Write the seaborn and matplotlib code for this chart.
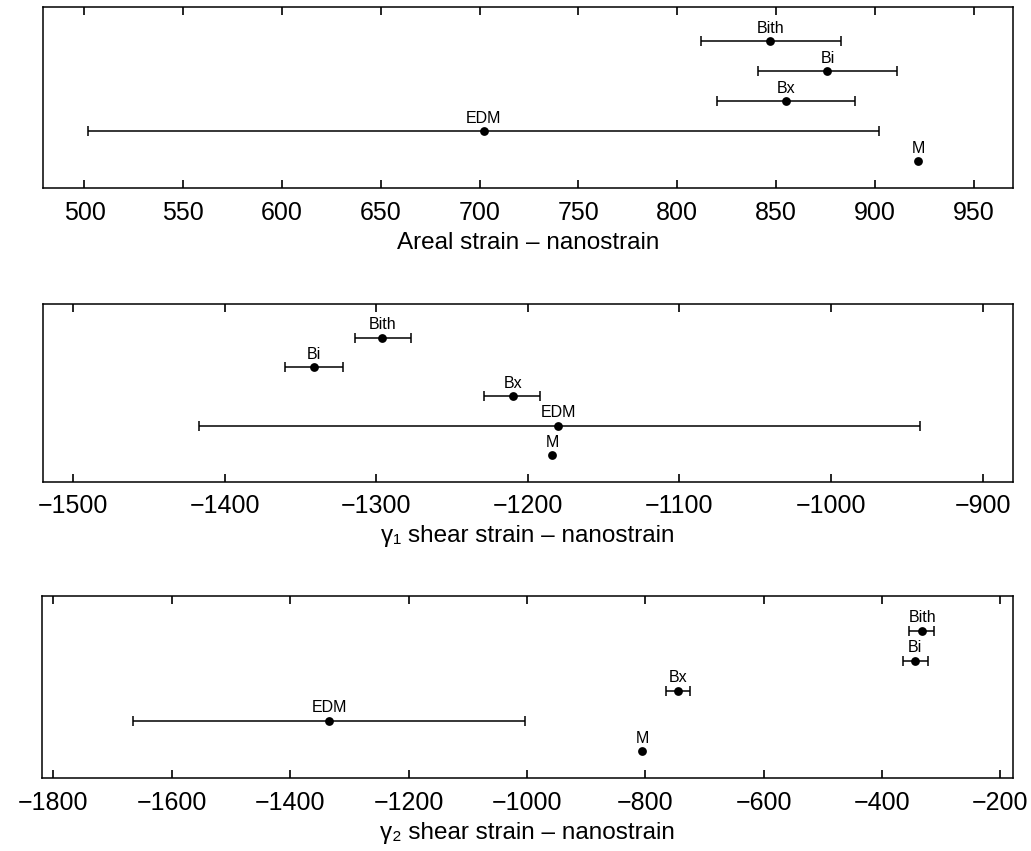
import matplotlib
matplotlib.use("Agg")
import numpy as np
import pandas as pd
import matplotlib.pyplot as plt
import seaborn as sns

# station / solution names and their row in each panel
labels = ["Bith", "Bi", "Bx", "EDM", "M"]
rows = [5, 4, 3, 2, 1]

# areal strain (nanostrain): value, lower and upper error limit (M has none)
areal = [847, 876, 855, 702, 922]
areal_lo = [812, 841, 820, 502, np.nan]
areal_hi = [883, 911, 890, 902, np.nan]

# gamma 1 shear strain
gamma1 = [-1296, -1341, -1210, -1180, -1184]
gamma1_lo = [-1314, -1360, -1229, -1417, np.nan]
gamma1_hi = [-1277, -1322, -1192, -941, np.nan]

# gamma 2 shear strain
gamma2 = [-332, -345, -745, -1334, -805]
gamma2_lo = [-354, -365, -765, -1666, np.nan]
gamma2_hi = [-313, -323, -724, -1003, np.nan]

xticks_areal = [500, 550, 600, 650, 700, 750, 800, 850, 900, 950]
xticks_g1 = [-1500, -1400, -1300, -1200, -1100, -1000, -900]
xticks_g2 = [-1800, -1600, -1400, -1200, -1000, -800, -600, -400, -200]

sns.set_style("ticks")
plt.rcParams['font.family'] = ['Liberation Sans', 'DejaVu Sans']
plt.rcParams['text.color'] = 'black'
plt.rcParams['axes.labelcolor'] = 'black'
plt.rcParams['xtick.color'] = 'black'


def strain_panel(ax, vals, lo, hi, xlim, xticks, xlabel):
    df = pd.DataFrame({"name": labels, "row": rows, "val": vals, "lo": lo, "hi": hi})
    bars = df.dropna()
    ax.errorbar(bars["val"], bars["row"],
                xerr=[bars["val"] - bars["lo"], bars["hi"] - bars["val"]],
                fmt="none", ecolor="black", elinewidth=1.1, capsize=3.3, capthick=1.1)
    sns.scatterplot(data=df, x="val", y="row", ax=ax, color="black", s=40,
                    edgecolor="black", linewidth=0, zorder=3, legend=False)
    for _, r in df.iterrows():
        ax.annotate(r["name"], (r["val"], r["row"]), xytext=(0, 4),
                    textcoords="offset points", ha="center", va="bottom",
                    fontsize=11.5, color="black")
    ax.set_xlim(*xlim)
    ax.set_ylim(0.1, 6.15)
    ax.set_xticks(xticks)
    ax.set_yticks([])
    ax.set_ylabel("")
    ax.set_xlabel(xlabel, fontsize=17.5, labelpad=5)
    ax.tick_params(axis="x", direction="in", top=True, bottom=True, length=6,
                   width=1.2, labelsize=18, pad=9)
    for s in ax.spines.values():
        s.set_linewidth(1.1)
        s.set_color("black")


fig = plt.figure(figsize=(10.31, 8.51), dpi=100)
ax1 = fig.add_axes([0.0417, 0.779, 0.941, 0.2127])
ax2 = fig.add_axes([0.0414, 0.434, 0.941, 0.2088])
ax3 = fig.add_axes([0.0404, 0.0855, 0.942, 0.2142])

strain_panel(ax1, areal, areal_lo, areal_hi, (479, 970), xticks_areal,
             "Areal strain \u2013 nanostrain")
strain_panel(ax2, gamma1, gamma1_lo, gamma1_hi, (-1520, -880), xticks_g1,
             "\u03b3\u2081 shear strain \u2013 nanostrain")
strain_panel(ax3, gamma2, gamma2_lo, gamma2_hi, (-1820, -179), xticks_g2,
             "\u03b3\u2082 shear strain \u2013 nanostrain")

fig.savefig("out.png", dpi=100)
